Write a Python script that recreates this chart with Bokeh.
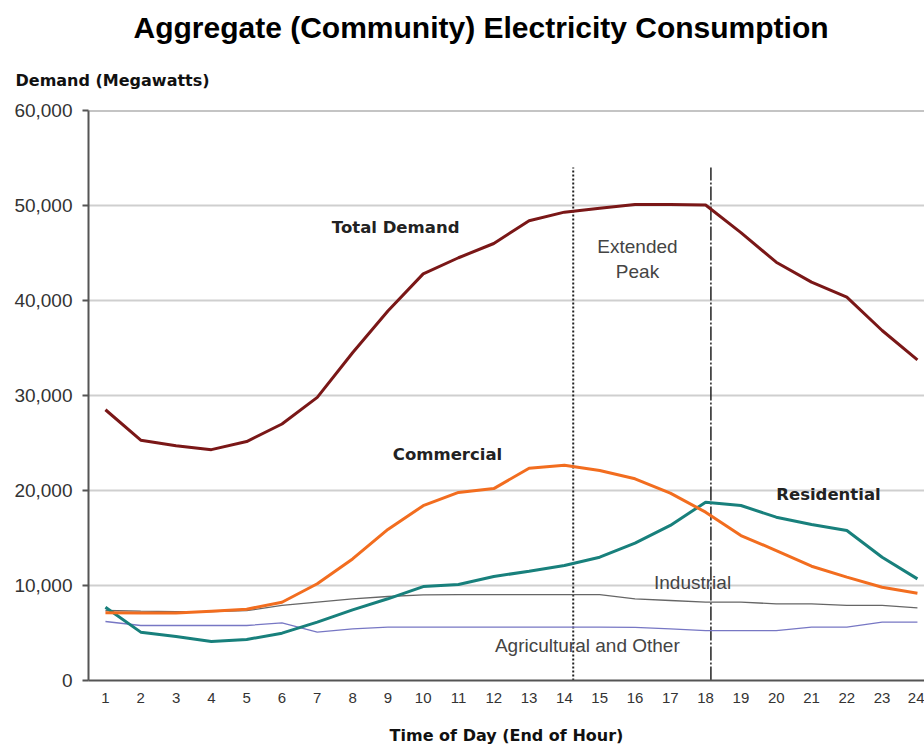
from bokeh.plotting import figure
from bokeh.models import Range1d, FixedTicker, NumeralTickFormatter, Span, Label, Title
from bokeh.embed import file_html
from bokeh.resources import INLINE

# Hour of day (end of hour)
hours = list(range(1, 25))

# Demand in megawatts by sector
total_demand = [28500, 25300, 24700, 24300, 25150, 27000, 29800, 34500, 38900, 42800,
                44500, 46000, 48400, 49300, 49700, 50100, 50100, 50050, 47150, 44030,
                41930, 40350, 36840, 33750]
commercial = [7120, 7100, 7100, 7300, 7500, 8240, 10180, 12800, 15900, 18400,
              19800, 20200, 22350, 22650, 22100, 21230, 19720, 17720, 15260, 13680,
              12030, 10880, 9820, 9190]
residential = [7720, 5090, 4630, 4100, 4320, 4980, 6140, 7440, 8600, 9890,
               10100, 10950, 11500, 12100, 12980, 14460, 16320, 18770, 18420, 17190,
               16420, 15790, 12980, 10700]
industrial = [7370, 7300, 7250, 7250, 7350, 7900, 8250, 8600, 8840, 9020,
              9050, 9050, 9050, 9050, 9050, 8600, 8420, 8250, 8250, 8070,
              8070, 7900, 7900, 7650]
agricultural = [6210, 5790, 5790, 5790, 5790, 6070, 5090, 5440, 5610, 5610,
                5610, 5610, 5610, 5610, 5610, 5600, 5440, 5260, 5260, 5260,
                5610, 5610, 6140, 6140]

y_ticks = [0, 10000, 20000, 30000, 40000, 50000, 60000]
peak_start = 14.25   # start of the extended peak window
peak_end = 18.15     # end of the extended peak window

BOLD_FONT = "DejaVu Sans"
PLAIN_FONT = "Liberation Sans"

p = figure(width=924, height=747, output_backend="svg", toolbar_location=None,
           title=None,
           x_range=Range1d(0.52, 24.2), y_range=Range1d(0, 60000),
           min_border_left=88, min_border_right=0, min_border_top=110,
           min_border_bottom=67)
p.outline_line_color = None
p.background_fill_color = "white"
p.border_fill_color = "white"

# Captions above the plot: the vertical-axis caption sits next to the frame,
# the chart title above it
p.add_layout(Title(text="Demand (Megawatts)", align="left", offset=-73,
                   standoff=41, text_font=BOLD_FONT, text_font_style="bold",
                   text_font_size="16px", text_color="#111111"), "above")
p.add_layout(Title(text="Aggregate (Community) Electricity Consumption", align="left",
                   offset=45, standoff=10, text_font=PLAIN_FONT, text_font_style="bold",
                   text_font_size="30px", text_color="#000000"), "above")

# Axes
p.xaxis.ticker = FixedTicker(ticks=hours)
p.yaxis.ticker = FixedTicker(ticks=y_ticks)
p.yaxis.formatter = NumeralTickFormatter(format="0,0")
for ax in (p.xaxis[0], p.yaxis[0]):
    ax.axis_line_color = "#555555"
    ax.axis_line_width = 2
    ax.minor_tick_line_color = None
    ax.major_label_text_color = "#333333"
    ax.major_label_text_font = PLAIN_FONT
p.xaxis.major_tick_line_color = None
p.xaxis.major_tick_out = 0
p.xaxis.major_label_standoff = 12
p.xaxis.major_label_text_font_size = "15px"
p.xaxis.axis_label = "Time of Day (End of Hour)"
p.xaxis.axis_label_text_font = BOLD_FONT
p.xaxis.axis_label_text_font_style = "bold"
p.xaxis.axis_label_text_font_size = "16px"
p.xaxis.axis_label_text_color = "#111111"
p.xaxis.axis_label_standoff = 20
p.yaxis.major_tick_line_color = "#555555"
p.yaxis.major_tick_line_width = 2
p.yaxis.major_tick_out = 6
p.yaxis.major_tick_in = 0
p.yaxis.major_label_standoff = 10
p.yaxis.major_label_text_font_size = "19px"

# Grid
p.xgrid.grid_line_color = None
p.ygrid.grid_line_color = "#cfcfcf"
p.ygrid.grid_line_width = 2
p.add_layout(Span(location=60000, dimension="width", line_color="#8a8a8a", line_width=2))

# Extended peak boundaries
p.segment(x0=[peak_start], y0=[0], x1=[peak_start], y1=[54000],
          line_color="#222222", line_width=2, line_dash="2 2")
p.segment(x0=[peak_end], y0=[0], x1=[peak_end], y1=[54000],
          line_color="#222222", line_width=1.5, line_dash="14 2 2 2")

# Sector lines
p.line(hours, agricultural, line_color="#7777c4", line_width=1.3)
p.line(hours, industrial, line_color="#666666", line_width=1.3)
p.line(hours, residential, line_color="#18807c", line_width=3)
p.line(hours, commercial, line_color="#f26d1f", line_width=3)
p.line(hours, total_demand, line_color="#7a1717", line_width=3)

# Series labels
def add_label(x, y, text, bold=False, size="19px", color="#444444"):
    p.add_layout(Label(x=x, y=y, text=text, text_align="center", text_baseline="middle",
                       text_font=BOLD_FONT if bold else PLAIN_FONT,
                       text_font_style="bold" if bold else "normal",
                       text_font_size=size, text_color=color))

add_label(9.22, 47700, "Total Demand", bold=True, size="16.5px", color="#222222")
add_label(10.69, 23800, "Commercial", bold=True, size="16.5px", color="#222222")
add_label(21.48, 19600, "Residential", bold=True, size="16.5px", color="#222222")
add_label(17.63, 10300, "Industrial")
add_label(14.65, 3700, "Agricultural and Other")
add_label(16.07, 45700, "Extended")
add_label(16.07, 43050, "Peak")

open("out.html", "w").write(file_html(p, INLINE))
